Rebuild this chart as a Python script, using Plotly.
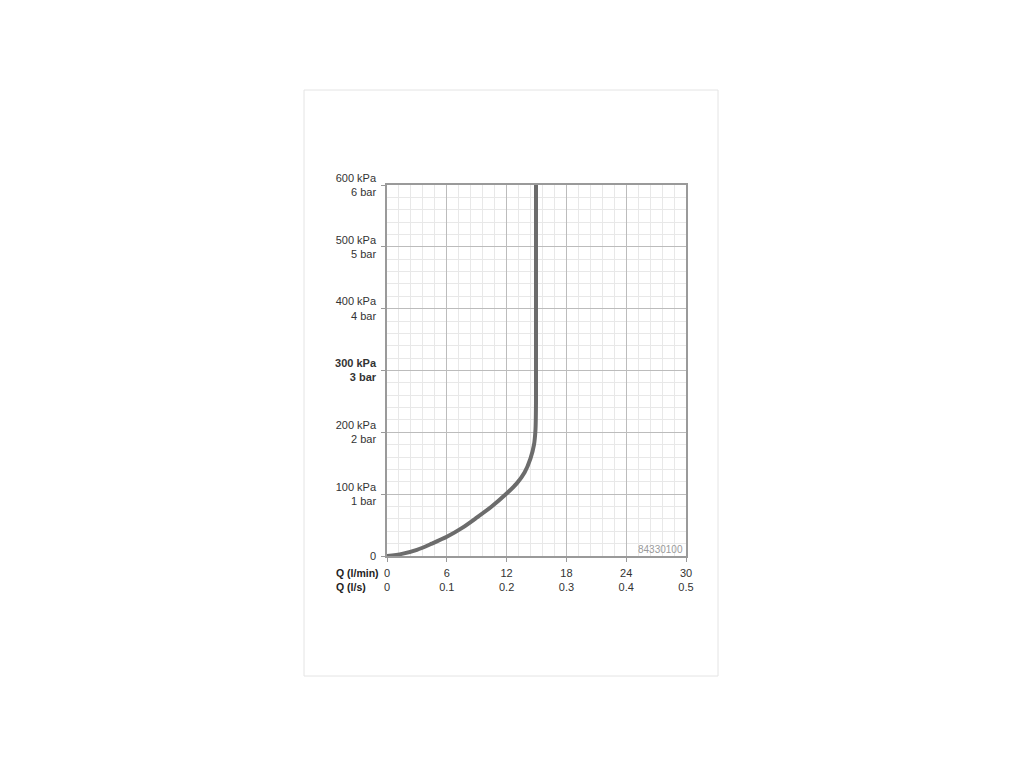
import plotly.graph_objects as go

# Data
flow_lpm = [0, 1.5, 3, 4.5, 6, 7.5, 9, 10.5, 12, 13, 13.8, 14.4, 14.75, 14.9, 14.95, 14.95]
pressure_kpa = [0, 3.5, 10, 20, 31, 45, 62, 80, 101, 117, 135, 158, 180, 205, 250, 600]

x_ticks = [0, 6, 12, 18, 24, 30]
x_ticks_ls = ["0", "0.1", "0.2", "0.3", "0.4", "0.5"]
y_ticks = [0, 100, 200, 300, 400, 500, 600]
y_kpa = ["0", "100 kPa", "200 kPa", "300 kPa", "400 kPa", "500 kPa", "600 kPa"]
y_bar = ["", "1 bar", "2 bar", "3 bar", "4 bar", "5 bar", "6 bar"]

x_text = [f"{a}<br>{b}" for a, b in zip(x_ticks, x_ticks_ls)]
y_text = []
for k, b in zip(y_kpa, y_bar):
    if not b:
        y_text.append(k)
    elif k.startswith("300"):
        y_text.append(f"<b>{k}</b><br><b>{b}</b>")
    else:
        y_text.append(f"{k}<br>{b}")

fig = go.Figure()
fig.add_trace(go.Scatter(
    x=flow_lpm, y=pressure_kpa, mode="lines",
    line=dict(color="rgb(108,108,108)", width=4, shape="spline", smoothing=0.8),
    hoverinfo="skip", showlegend=False,
))

OFF = 8  # default body margin of the page
L, R, T, B = 387, 686, 185, 556
pw, ph = R - L, B - T

fig.update_layout(
    width=1024, height=768,
    margin=dict(l=L - OFF, r=1024 - (R - OFF), t=T - OFF, b=768 - (B - OFF), pad=0),
    paper_bgcolor="white", plot_bgcolor="white",
    font=dict(family="Liberation Sans, Arial, sans-serif", size=11, color="#333"),
    showlegend=False,
    xaxis=dict(
        range=[0, 30], tickmode="array", tickvals=x_ticks, ticktext=x_text,
        showgrid=True, gridcolor="#bcbcbc", gridwidth=1,
        minor=dict(dtick=1.2, tick0=0, showgrid=True, gridcolor="#e8e8e8", gridwidth=1),
        showline=True, linecolor="#9a9a9a", linewidth=1.5, mirror=True,
        ticks="outside", ticklen=4, tickcolor="#9a9a9a", ticklabelstandoff=2,
        zeroline=False, fixedrange=True,
    ),
    yaxis=dict(
        range=[0, 600], tickmode="array", tickvals=y_ticks, ticktext=y_text,
        showgrid=True, gridcolor="#bcbcbc", gridwidth=1,
        minor=dict(dtick=20, tick0=0, showgrid=True, gridcolor="#e8e8e8", gridwidth=1),
        showline=True, linecolor="#9a9a9a", linewidth=1.5, mirror=True,
        ticks="outside", ticklen=4, tickcolor="#9a9a9a", ticklabelstandoff=3,
        zeroline=False, fixedrange=True,
    ),
    shapes=[dict(
        type="rect", xref="paper", yref="paper",
        x0=(304 - L) / pw, x1=(718 - L) / pw,
        y0=(B - 676) / ph, y1=(B - 90) / ph,
        line=dict(color="#e4e4e4", width=1), fillcolor="rgba(0,0,0,0)", layer="below",
    )],
    annotations=[
        dict(text="<b>Q (l/min)</b><br><b>Q (l/s)</b>", xref="paper", yref="paper",
             x=(334 - L) / pw, y=(B - 565) / ph, xanchor="left", yanchor="top",
             align="left", showarrow=False, font=dict(size=10.5, color="#222")),
        dict(text="84330100", xref="paper", yref="paper",
             x=(685 - L) / pw, y=(B - 557) / ph, xanchor="right", yanchor="bottom",
             showarrow=False, font=dict(size=10, color="#9a9a9a")),
    ],
)

fig.write_html("out.html")
